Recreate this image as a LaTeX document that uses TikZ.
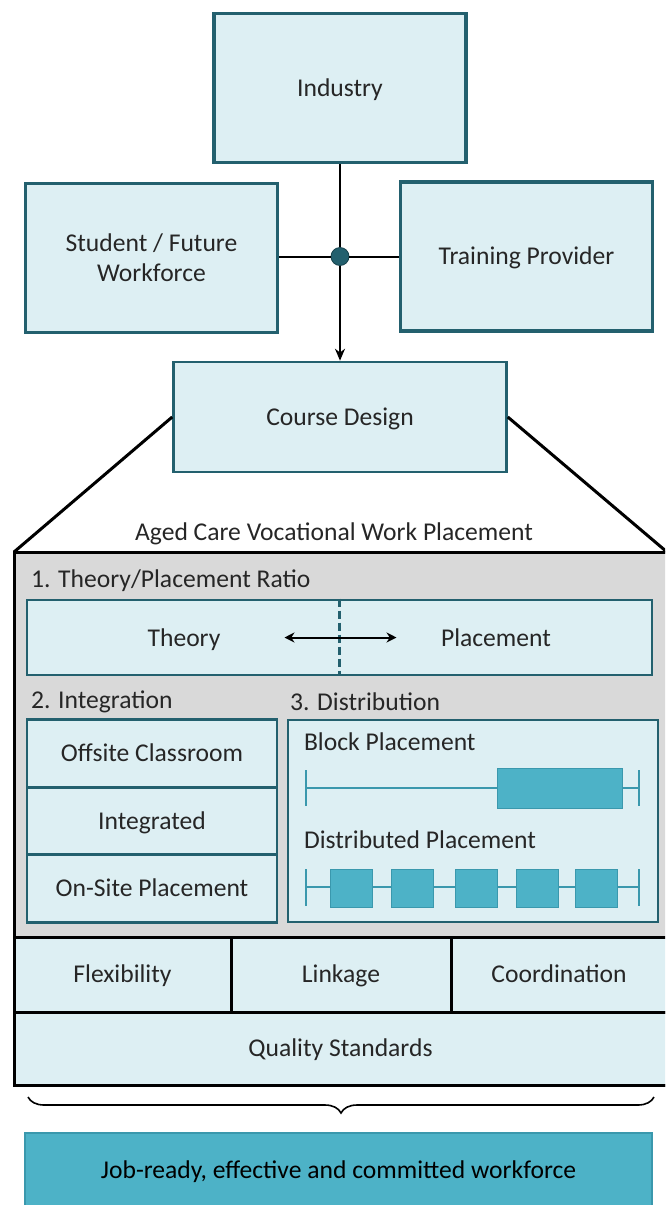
\documentclass[tikz,border=0pt]{standalone}
\usepackage{fontspec}
\setmainfont{Carlito}
\usepackage{tikz}
\usetikzlibrary{arrows.meta, positioning, calc, decorations.pathreplacing}

\definecolor{tealdark}{HTML}{23606E}
\definecolor{tealpale}{HTML}{DDEFF3}
\definecolor{tealmid}{HTML}{4DB2C7}
\definecolor{tealedge}{HTML}{3A98AD}
\definecolor{panelgrey}{HTML}{D9D9D9}
\definecolor{inkgrey}{HTML}{262626}

\begin{document}
\begin{tikzpicture}[x=0.5pt, y=-0.5pt,
  every node/.style={font=\fontsize{12.8}{15}\selectfont, text=inkgrey,
    text height=2.25ex, text depth=0.5ex},
  bigbox/.style={draw=tealdark, fill=tealpale, line width=1.8pt, inner sep=0pt,
    minimum width=126pt, minimum height=74.5pt, align=center},
  box/.style={draw=tealdark, fill=tealpale, line width=1.3pt, inner sep=0pt, align=center},
  rowbox/.style={draw=black, fill=tealpale, line width=1.5pt, inner sep=0pt},
  seg/.style={fill=tealmid, draw=tealedge, line width=0.5pt},
  track/.style={draw=tealedge, line width=0.7pt}]
  \clip (0,0) rectangle (665,1205);

  % Stakeholders
  \node[bigbox] (industry) at (340,88) {Industry};
  \node[bigbox, text height={}, text depth={}] (student) at (151.5,258) {Student / Future\\Workforce};
  \node[bigbox] (provider) at (526.5,256.5) {Training Provider};
  \node[circle, fill=tealdark, draw=tealdark!70!black, inner sep=0pt, minimum size=9pt,
    text height={}, text depth={}] (hub) at (340,256.5) {};
  \node[box, minimum width=166.5pt, minimum height=55pt] (course) at (340,417) {Course Design};

  \draw[line width=1pt] (industry.south) -- (hub);
  \draw[line width=1pt] (hub -| student.east) -- (hub) -- (provider.west);
  \draw[line width=1pt, -{Stealth[length=6pt, width=5pt]}] (hub) -- (course.north);

  % Placement panel
  \coordinate (panelNW) at (14,552);
  \coordinate (panelNE) at (667,552);
  \fill[panelgrey] (14,552) rectangle (667,937);
  \draw[line width=1.5pt] (course.west) -- (panelNW);
  \draw[line width=1.5pt] (course.east) -- (panelNE);
  \node (title) at (334,532) {Aged Care Vocational Work Placement};

  % 1. Ratio
  \node[anchor=west] (ratiolabel) at (24,579) {1. Theory/Placement Ratio};
  \node[box, minimum width=312.5pt, minimum height=37.5pt] (ratio) at (339.5,637.5) {};
  \draw[tealdark, line width=1.3pt, dash pattern=on 4pt off 2pt] (ratio.north) -- (ratio.south);
  \node (theory) at (184,638) {Theory};
  \node (placement) at (496,638) {Placement};
  \draw[line width=1pt, {Stealth[length=5pt, width=5pt]}-{Stealth[length=5pt, width=5pt]}]
    ([xshift=-27.5pt]ratio.center) -- ([xshift=28.5pt]ratio.center);

  % 2. Integration
  \node[anchor=west] (integlabel) at (24,700) {2. Integration};
  \node[box, minimum width=125pt, minimum height=33.75pt] (offsite) at (152,753.5) {Offsite Classroom};
  \node[box, minimum width=125pt, minimum height=33.75pt] (integrated) at (152,821) {Integrated};
  \node[box, minimum width=125pt, minimum height=33.75pt] (onsite) at (152,888.5) {On-Site Placement};

  % 3. Distribution
  \node[anchor=west] (distlabel) at (283,702) {3. Distribution};
  \node[box, minimum width=185pt, minimum height=101pt] (dist) at (473,821) {};
  \node[anchor=west] (blocklabel) at (297,742) {Block Placement};
  \node[anchor=west] (spreadlabel) at (297,840) {Distributed Placement};

  % block timeline
  \draw[track] (306,788) -- (639,788);
  \draw[track, line width=1pt] (306,770) -- (306,806);
  \draw[track, line width=1pt] (639,770) -- (639,806);
  \draw[seg] (497,768) rectangle (622,808);

  % distributed timeline
  \draw[track] (306,887) -- (639,887);
  \draw[track, line width=1pt] (306,869) -- (306,906);
  \draw[track, line width=1pt] (639,869) -- (639,906);
  \foreach \x in {330,391,455,516,575}
    \draw[seg] (\x,869) rectangle +(42,38);

  % Principles
  \node[rowbox, minimum width=108.5pt, minimum height=37.5pt] (flex) at (122.5,974.5) {Flexibility};
  \node[rowbox, minimum width=110pt, minimum height=37.5pt] (linkage) at (341,974.5) {Linkage};
  \node[rowbox, minimum width=108pt, minimum height=37.5pt] (coord) at (559,974.5) {Coordination};
  \node[rowbox, minimum width=326.5pt, minimum height=36.5pt] (quality) at (340.5,1048.5) {Quality Standards};
  \draw[line width=1.5pt] (14,552) rectangle (667,1085);

  % Outcome
  \draw[line width=0.8pt, decorate, decoration={brace, amplitude=8pt, mirror}]
    (28,1097) -- (654,1097) coordinate[midway] (bracetip);
  \node[draw=tealedge, fill=tealmid, line width=1.3pt, minimum width=313.5pt, minimum height=37pt,
    text=black] (outcome) at (338.5,1170) {Job-ready, effective and committed workforce};
\end{tikzpicture}
\end{document}
